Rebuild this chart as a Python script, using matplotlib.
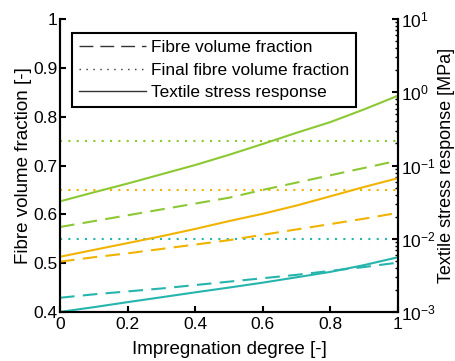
import numpy as np
import matplotlib
matplotlib.use("Agg")
import matplotlib.pyplot as plt

plt.rcParams['font.family'] = ['Liberation Sans', 'DejaVu Sans']
plt.rcParams['mathtext.fontset'] = 'custom'
plt.rcParams['mathtext.rm'] = 'Liberation Sans'

# impregnation degree samples
x = [0.0, 0.1, 0.2, 0.3, 0.4, 0.5, 0.6, 0.7, 0.8, 0.9, 1.0]

# fibre volume fraction (dashed), left axis
vf_teal = [0.429, 0.436, 0.442, 0.448, 0.455, 0.462, 0.469, 0.476, 0.484, 0.492, 0.501]
vf_orange = [0.503, 0.512, 0.520, 0.529, 0.538, 0.547, 0.558, 0.569, 0.580, 0.591, 0.603]
vf_green = [0.574, 0.586, 0.598, 0.610, 0.622, 0.634, 0.650, 0.665, 0.680, 0.695, 0.710]

# final fibre volume fraction (dotted)
vf_final = [0.55, 0.65, 0.75]

# textile stress response [MPa] (solid), right axis
s_teal = [1.00e-3, 1.16e-3, 1.36e-3, 1.585e-3, 1.85e-3, 2.15e-3,
          2.51e-3, 2.97e-3, 3.52e-3, 4.36e-3, 5.58e-3]
s_orange = [5.67e-3, 7.03e-3, 8.71e-3, 1.08e-2, 1.36e-2, 1.74e-2,
            2.19e-2, 2.84e-2, 3.80e-2, 5.09e-2, 6.71e-2]
s_green = [3.24e-2, 4.30e-2, 5.67e-2, 7.59e-2, 0.1016, 0.140,
           0.197, 0.280, 0.392, 0.585, 0.898]

colors = ['#26b5ad', '#f0b400', '#8cc833']

fig = plt.figure(figsize=(4.56, 3.61), dpi=100)
ax = fig.add_axes([0.1316, 0.136, 0.741, 0.811])
ax2 = ax.twinx()

dash = (0, (7, 4))
dot = (0, (1, 3))

for vf, vfin, c in zip([vf_teal, vf_orange, vf_green], vf_final, colors):
    ax.plot(x, vf, color=c, lw=1.5, linestyle=dash)
    ax.axhline(vfin, color=c, lw=1.5, linestyle=dot)

for s, c in zip([s_teal, s_orange, s_green], colors):
    ax2.plot(x, s, color=c, lw=1.5)

ax.set_xlim(0, 1)
ax.set_ylim(0.4, 1.0)
ax.set_xticks([0, 0.2, 0.4, 0.6, 0.8, 1])
ax.set_xticklabels(['0', '0.2', '0.4', '0.6', '0.8', '1'])
ax.set_yticks([0.4, 0.5, 0.6, 0.7, 0.8, 0.9, 1.0])
ax.set_yticklabels(['0.4', '0.5', '0.6', '0.7', '0.8', '0.9', '1'])

ax2.set_yscale('log')
ax2.set_ylim(1e-3, 1e1)

for a in (ax, ax2):
    a.spines['top'].set_visible(False)
    for sp in a.spines.values():
        sp.set_linewidth(1.5)
    a.tick_params(direction='in', length=4, width=1.5, labelsize=12.5, pad=2)
    a.tick_params(which='minor', direction='in', length=2.5, width=1)
ax.tick_params(axis='x', pad=4)

ax.set_xlabel('Impregnation degree [-]', fontsize=13.5, labelpad=6)
ax.set_ylabel('Fibre volume fraction [-]', fontsize=13.5, labelpad=1)
ax2.set_ylabel('Textile stress response [MPa]', fontsize=13, labelpad=2)

# legend with neutral line samples
h1, = ax.plot([], [], color='#333333', lw=1, linestyle=(0, (10, 5)))
h2, = ax.plot([], [], color='#333333', lw=1, linestyle=(0, (1, 4)))
h3, = ax.plot([], [], color='#333333', lw=1)
leg = ax.legend([h1, h2, h3],
                ['Fibre volume fraction', 'Final fibre volume fraction',
                 'Textile stress response'],
                loc='upper left', bbox_to_anchor=(0.035, 0.953), borderaxespad=0,
                fontsize=12.4, fancybox=False, framealpha=1, edgecolor='black',
                handlelength=3.9, handletextpad=0.3, borderpad=0.4,
                labelspacing=0.45)
leg.get_frame().set_linewidth(1.5)

fig.savefig('out.png', dpi=100)
